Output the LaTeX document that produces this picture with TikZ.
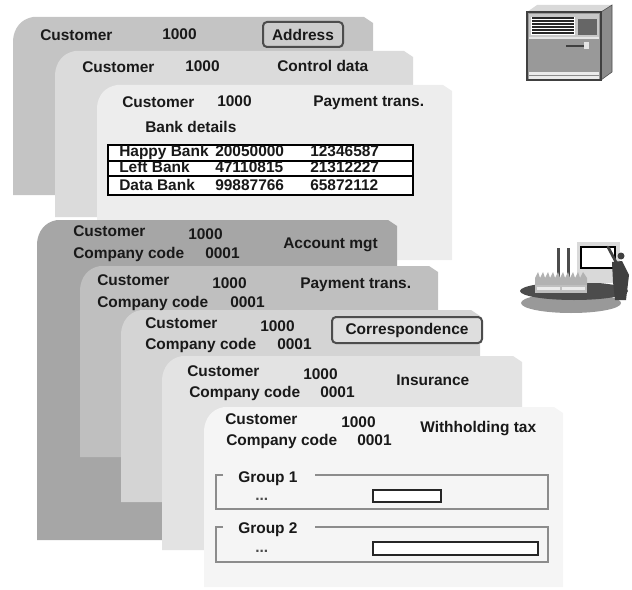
\documentclass[tikz,border=0pt]{standalone}
\usepackage{fontspec}
\setmainfont{Liberation Sans}

\begin{document}
\begin{tikzpicture}[x=0.25mm, y=-0.25mm,
  txt/.style={anchor=base west, inner sep=0pt, font=\fontsize{11}{13}\selectfont\bfseries, text=black!90},
  tagbox/.style={draw=black!70, line width=0.5mm, rounded corners=1mm, inner sep=0pt, font=\fontsize{11}{13}\selectfont\bfseries, text=black!90},
  grpline/.style={draw=black!45, line width=0.3mm},
  inbox/.style={draw=black!85, fill=white, line width=0.3mm}]
	\useasboundingbox (0,0) rectangle (632,589);
	% 一般数据: 三张卡片
	\fill[black!23] (13,195) -- (13,40) .. controls (14,28) and (21,19) .. (33,17) -- (364,17) -- (373,23) -- (373,195) -- cycle;
	\fill[black!14] (55,217) -- (55,74) .. controls (56,62) and (63,53) .. (75,51) -- (404,51) -- (413,57) -- (413,217) -- cycle;
	\fill[black!7] (97,260) -- (97,107) .. controls (98,95) and (105,87) .. (117,85) -- (443,85) -- (452,91) -- (452,260) -- cycle;
	% 地址
	\node[txt] (c1cust) at (40,41) {Customer};
	\node[txt] (c1num) at (162,40) {1000};
	\node[tagbox, fill=black!20, minimum width=20mm, minimum height=6.25mm] (c1view) at (303,34.5) {Address};
	% 控制数据
	\node[txt] (c2cust) at (82,73) {Customer};
	\node[txt] (c2num) at (185,72) {1000};
	\node[txt] (c2view) at (277,72) {Control data};
	% 付款: 银行细节
	\node[txt] (c3cust) at (122,108) {Customer};
	\node[txt] (c3num) at (217,107) {1000};
	\node[txt] (c3view) at (313,107) {Payment trans.};
	\node[txt] (banks) at (145,133) {Bank details};
	\draw[fill=white, line width=0.3mm] (108,145) rectangle (413,195);
	\draw[line width=0.3mm] (108,161) -- (413,161);
	\draw[line width=0.3mm] (108,176) -- (413,176);
	\node[txt] (bank1) at (119,157) {Happy Bank};
	\node[txt] (key1) at (215,157) {20050000};
	\node[txt] (acct1) at (310,157) {12346587};
	\node[txt] (bank2) at (119,173) {Left Bank};
	\node[txt] (key2) at (215,173) {47110815};
	\node[txt] (acct2) at (310,173) {21312227};
	\node[txt] (bank3) at (119,190) {Data Bank};
	\node[txt] (key3) at (215,190) {99887766};
	\node[txt] (acct3) at (310,190) {65872112};
	% 公司代码数据: 五张卡片
	\fill[black!35] (37,540) -- (37,243) .. controls (38,231) and (45,222) .. (57,220) -- (388,220) -- (397,226) -- (397,540) -- cycle;
	\fill[black!25] (80,457) -- (80,289) .. controls (81,277) and (88,268) .. (100,266) -- (429,266) -- (438,272) -- (438,457) -- cycle;
	\fill[black!17] (121,502) -- (121,333) .. controls (122,321) and (129,312) .. (141,310) -- (471,310) -- (480,316) -- (480,502) -- cycle;
	\fill[black!11] (162,550) -- (162,379) .. controls (163,367) and (170,358) .. (182,356) -- (513,356) -- (522,362) -- (522,550) -- cycle;
	\fill[black!4] (204,587) -- (204,430) .. controls (205,418) and (212,409) .. (224,407) -- (554,407) -- (563,413) -- (563,587) -- cycle;
	% 账户管理
	\node[txt] (ca) at (73,236) {Customer};
	\node[txt] (canum) at (188,239) {1000};
	\node[txt] (cacc) at (73,258) {Company code};
	\node[txt] (caccnum) at (205,258) {0001};
	\node[txt] (caview) at (283,248) {Account mgt};
	% 付款
	\node[txt] (cb) at (97,285) {Customer};
	\node[txt] (cbnum) at (212,288) {1000};
	\node[txt] (cbcc) at (97,307) {Company code};
	\node[txt] (cbccnum) at (230,307) {0001};
	\node[txt] (cbview) at (300,288) {Payment trans.};
	% 通信
	\node[txt] (cc) at (145,328) {Customer};
	\node[txt] (ccnum) at (260,331) {1000};
	\node[txt] (cccc) at (145,349) {Company code};
	\node[txt] (ccccnum) at (277,349) {0001};
	\node[tagbox, fill=black!13, minimum width=37.5mm, minimum height=6.5mm] (ccview) at (407,330) {Correspondence};
	% 保险
	\node[txt] (cd) at (187,376) {Customer};
	\node[txt] (cdnum) at (303,379) {1000};
	\node[txt] (cdcc) at (189,397) {Company code};
	\node[txt] (cdccnum) at (320,397) {0001};
	\node[txt] (cdview) at (396,385) {Insurance};
	% 预扣税
	\node[txt] (ce) at (225,424) {Customer};
	\node[txt] (cenum) at (341,427) {1000};
	\node[txt] (cecc) at (226,445) {Company code};
	\node[txt] (ceccnum) at (357,445) {0001};
	\node[txt] (ceview) at (420,432) {Withholding tax};
	% 组1
	\draw[grpline] (223,475) -- (216,475) -- (216,509) -- (548,509) -- (548,475) -- (315,475);
	\node[txt] (grp1) at (238,482) {Group 1};
	\node[txt, text=black!70] (dots1) at (255,500) {...};
	\draw[inbox] (373,490) rectangle (441,502);
	% 组2
	\draw[grpline] (223,527) -- (216,527) -- (216,562) -- (548,562) -- (548,527) -- (315,527);
	\node[txt] (grp2) at (238,533) {Group 2};
	\node[txt, text=black!70] (dots2) at (255,552) {...};
	\draw[inbox] (373,542) rectangle (538,555);
	% 服务器
	\fill[black!15] (527,12) -- (537,5) -- (612,5) -- (601,12) -- cycle;
	\draw[fill=black!45, draw=black!70] (601,12) -- (612,5) -- (612,72) -- (601,80) -- cycle;
	\draw[fill=black!40, draw=black!75, line width=0.4mm] (527,12) rectangle (601,80);
	\fill[black!22] (529,14) rectangle (599,37);
	\fill[white] (531,17) rectangle (575,35);
	\foreach \y in {18,21,...,33}
		\draw[black!85, line width=0.3mm] (532,\y) -- (574,\y);
	\fill[black!60] (578,19) rectangle (597,35);
	\draw[black!10, line width=0.5mm] (529,38.5) -- (599,38.5);
	\draw[black!75, line width=0.35mm] (566,46) -- (587,46);
	\fill[black!10] (584,42) rectangle (589,49);
	\fill[black!8] (529,72) rectangle (599,79);
	\draw[black!45, line width=0.3mm] (529,75.5) -- (599,75.5);
	% 工厂
	\fill[black!40] (571,303) ellipse [x radius=50, y radius=10];
	\fill[black!70] (574,291) ellipse [x radius=54, y radius=9];
	\fill[black!70] (557,248) rectangle (560,278);
	\fill[black!70] (567,248) rectangle (570,278);
	\fill[black!15] (577,242) rectangle (620,283);
	\draw[fill=white, line width=0.5mm] (581,247) rectangle (615,268);
	\fill[black!30] (535,285) -- (535,278)
		-- (538,272) -- (540,278) -- (543,272) -- (545,278) -- (548,272) -- (550,278)
		-- (553,272) -- (555,278) -- (558,272) -- (560,278) -- (563,272) -- (565,278)
		-- (568,272) -- (570,278) -- (573,272) -- (575,278) -- (578,272) -- (580,278)
		-- (583,272) -- (587,278) -- (587,285) -- cycle;
	\fill[black!25] (535,285) rectangle (587,293);
	\fill[black!8] (537,286.5) rectangle (560,289.5);
	\fill[black!8] (562,286.5) rectangle (585,289.5);
	\fill[black!75] (612,262) -- (622,261) -- (629,275) -- (626,300) -- (615,300) -- (613,282) -- cycle;
	\fill[black!75] (621,256) circle (3.5);
	\draw[black!75, line width=0.7mm, line cap=round] (608,247) -- (617,264);
\end{tikzpicture}
\end{document}
